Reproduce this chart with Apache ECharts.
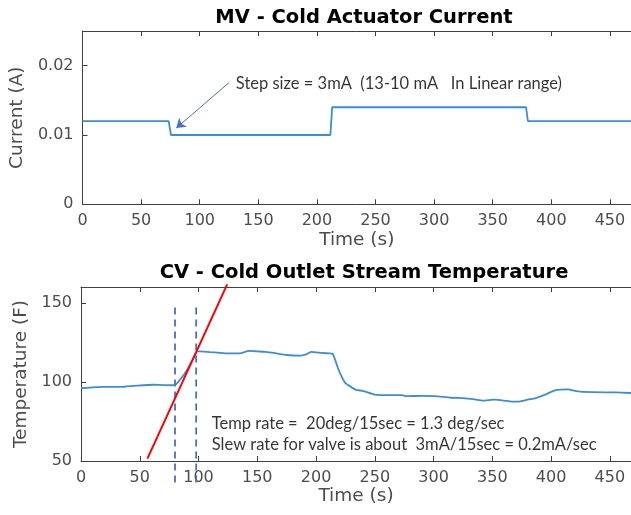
<!DOCTYPE html>
<html>
<head>
<meta charset="utf-8">
<script src="https://cdn.jsdelivr.net/npm/echarts@6/dist/echarts.min.js"></script>
<style>
  html, body { margin: 0; padding: 0; background: #fff; }
  #chart { width: 631px; height: 515px; }
</style>
</head>
<body>
<div id="chart"></div>
<script>
// MV: cold actuator current (A) vs time (s)
const mvTime    = [0, 73.5, 75.5, 211.5, 213, 378.5, 380, 468];
const mvCurrent = [0.012, 0.012, 0.010, 0.010, 0.014, 0.014, 0.012, 0.012];

// CV: cold outlet stream temperature (F) vs time (s)
const cvTime = [0, 10, 20, 33, 47, 61, 70, 78, 81, 84, 88, 92, 96, 99, 102, 110, 116, 125, 135, 143,
                150, 157, 165, 175, 186, 191, 196, 205, 211, 214, 219, 222, 225, 229, 234, 240, 250, 262, 273, 277,
                290, 301, 315, 325, 335, 342, 352, 362, 368, 373, 380, 387, 395, 404, 414, 423, 435, 445, 455, 468];
const cvTemp = [96.0, 96.5, 96.8, 96.8, 97.6, 98.2, 98.0, 97.9, 98.6, 101.2, 105.0, 110.0, 115.5, 119.3, 119.3, 118.8, 118.5, 118.0, 118.0, 119.6,
                119.3, 119.0, 118.2, 117.0, 116.6, 117.2, 119.0, 118.3, 118.0, 117.8, 108.0, 103.0, 99.2, 97.2, 95.0, 94.3, 92.0, 91.7, 91.7, 91.0,
                91.2, 91.0, 90.0, 89.8, 89.0, 88.2, 88.8, 88.0, 87.5, 87.6, 88.8, 89.8, 92.0, 94.8, 95.3, 94.0, 93.5, 93.4, 93.4, 93.0];

// Slope construction line and the two time markers bounding the rise
const slopeTime = [56.5, 124.4];
const slopeTemp = [51.5, 161.7];
const markerTimes = [80, 98];
const markerSpan = [147, 36.3];

// Step-size arrow (tail -> head) and notes
const arrowTime = [125, 80];
const arrowCurrent = [0.01755, 0.011];
const stepNote = 'Step size = 3mA  (13-10 mA   In Linear range)';
const stepNoteAt = [130.8, 0.01746];
const rateNotes = ['Temp rate =  20deg/15sec = 1.3 deg/sec',
                   'Slew rate for valve is about  3mA/15sec = 0.2mA/sec'];
const rateNotesAt = [[111.3, 73.4], [111.3, 60.1]];

const titles = ['MV - Cold Actuator Current', 'CV - Cold Outlet Stream Temperature'];
const xName = 'Time (s)';
const yNames = ['Current (A)', 'Temperature (F)'];

const AXIS = '#404040';
const LABEL = '#4d4d4d';
const LINE = '#3b8ed0';
const FONT = '"DejaVu Sans", "Open Sans", sans-serif';
const NOTE_FONT = 'Lato, "Open Sans", sans-serif';

const zip = (a, b) => a.map((v, i) => [v, b[i]]);

function bottomX(gridIndex) {
  return {
    type: 'value', gridIndex, min: 0, max: 468, interval: 50,
    name: xName, nameLocation: 'middle', nameGap: 26,
    nameTextStyle: { fontFamily: FONT, fontSize: 18.5, color: LABEL },
    axisLine: { show: true, lineStyle: { color: AXIS, width: 1 } },
    axisTick: { show: true, inside: true, length: 5, lineStyle: { color: AXIS } },
    axisLabel: { show: true, showMaxLabel: false, margin: 9, fontFamily: FONT, fontSize: 16, color: LABEL },
    splitLine: { show: false }
  };
}
function topX(gridIndex) {
  return {
    type: 'value', gridIndex, position: 'top', min: 0, max: 468, interval: 50,
    axisLine: { show: true, lineStyle: { color: AXIS, width: 1 } },
    axisTick: { show: true, inside: true, length: 5, lineStyle: { color: AXIS } },
    axisLabel: { show: false },
    splitLine: { show: false }
  };
}
function leftY(gridIndex, min, max, interval, name, gap) {
  return {
    type: 'value', gridIndex, min, max, interval,
    name, nameLocation: 'middle', nameGap: gap, nameRotate: 90,
    nameTextStyle: { fontFamily: FONT, fontSize: 18.5, color: LABEL },
    axisLine: { show: true, lineStyle: { color: AXIS, width: 1 } },
    axisTick: { show: true, inside: true, length: 5, lineStyle: { color: AXIS } },
    axisLabel: { show: true, showMaxLabel: false, margin: 9, fontFamily: FONT, fontSize: 16, color: LABEL },
    splitLine: { show: false }
  };
}

const noteLabel = (text) => ({
  show: true, position: 'right', distance: 0, formatter: text,
  fontFamily: NOTE_FONT, fontSize: 16.5, color: '#000'
});

const chart = echarts.init(document.getElementById('chart'));
chart.setOption({
  animation: false,
  backgroundColor: '#fff',
  title: [
    { text: titles[0], left: 359, top: 3, textAlign: 'center',
      textStyle: { fontFamily: FONT, fontWeight: 'bold', fontSize: 19.5, color: '#000' } },
    { text: titles[1], left: 359, top: 258, textAlign: 'center',
      textStyle: { fontFamily: FONT, fontWeight: 'bold', fontSize: 19.5, color: '#000' } }
  ],
  grid: [
    { left: 80.7, right: 0, top: 31, height: 173.3 },
    { left: 81, right: 0, top: 287, height: 174 }
  ],
  xAxis: [bottomX(0), topX(0), bottomX(1), topX(1)],
  yAxis: [
    leftY(0, 0, 0.025, 0.01, yNames[0], 53),
    leftY(1, 50, 160, 50, yNames[1], 47)
  ],
  series: [
    {
      type: 'line', xAxisIndex: 0, yAxisIndex: 0, data: zip(mvTime, mvCurrent),
      showSymbol: false, lineStyle: { color: LINE, width: 1.8 },
      markLine: {
        silent: true, symbol: ['none', 'arrow'], symbolSize: 9,
        label: { show: false },
        lineStyle: { color: '#4472c4', width: 1, type: 'solid' },
        data: [[{ coord: [arrowTime[0], arrowCurrent[0]] }, { coord: [arrowTime[1], arrowCurrent[1]] }]]
      }
    },
    {
      type: 'scatter', xAxisIndex: 0, yAxisIndex: 0, symbolSize: 0, silent: true,
      data: [stepNoteAt], label: noteLabel(stepNote)
    },
    {
      type: 'line', xAxisIndex: 2, yAxisIndex: 1, data: zip(cvTime, cvTemp),
      showSymbol: false, smooth: 0.2, lineStyle: { color: LINE, width: 1.8 }
    },
    ...markerTimes.map(t => ({
      type: 'line', xAxisIndex: 2, yAxisIndex: 1, clip: false, showSymbol: false, silent: true,
      data: [[t, markerSpan[0]], [t, markerSpan[1]]],
      lineStyle: { color: '#4472c4', width: 1.8, type: [7, 5] }
    })),
    {
      type: 'line', xAxisIndex: 2, yAxisIndex: 1, clip: false, showSymbol: false, silent: true,
      data: zip(slopeTime, slopeTemp), lineStyle: { color: '#ff0000', width: 2 }
    },
    ...rateNotes.map((txt, i) => ({
      type: 'scatter', xAxisIndex: 2, yAxisIndex: 1, symbolSize: 0, silent: true,
      data: [rateNotesAt[i]], label: noteLabel(txt)
    }))
  ]
});
</script>
</body>
</html>
